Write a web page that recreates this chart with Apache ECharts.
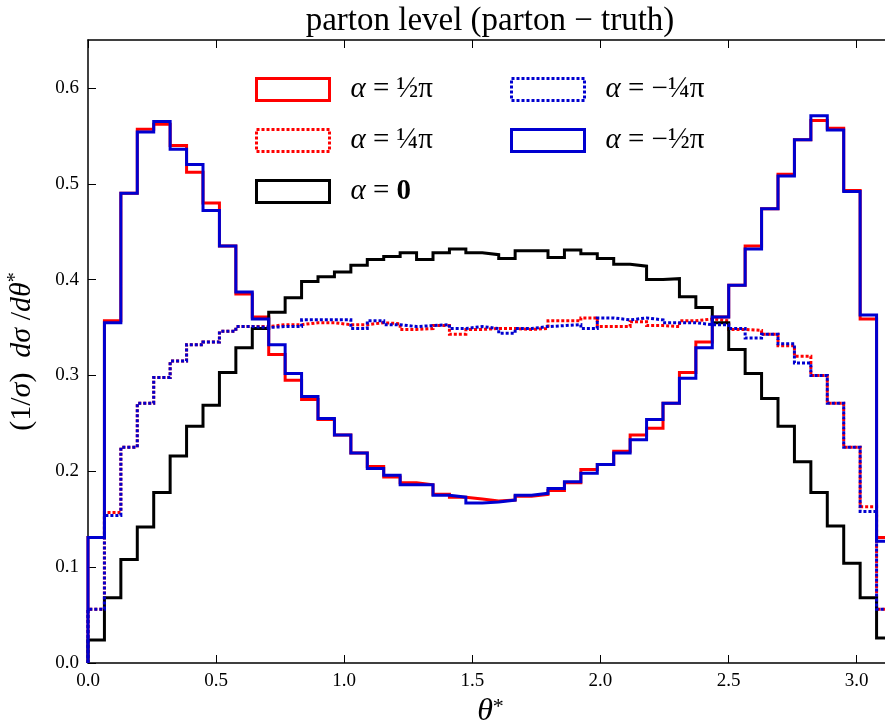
<!DOCTYPE html>
<html>
<head>
<meta charset="utf-8">
<script src="https://cdn.jsdelivr.net/npm/echarts@6/dist/echarts.min.js"></script>
<style>html,body{margin:0;padding:0;background:#fff;}#c{width:885px;height:724px;}</style>
</head>
<body>
<div id="c"></div>
<script>
// ---- data (49 bins spanning 0..pi) ----
const binCount = 49;
const xTicks = [0.0, 0.5, 1.0, 1.5, 2.0, 2.5, 3.0];
const yTicks = [0.0, 0.1, 0.2, 0.3, 0.4, 0.5, 0.6];
const seriesNames = ['α = ½π', 'α = ¼π', 'α = 0', 'α = −¼π', 'α = −½π'];

const alphaHalfPi = [0.131,0.357,0.490,0.557,0.562,0.540,0.512,0.480,0.435,0.385,0.361,0.322,0.295,0.275,0.254,0.238,0.219,0.205,0.194,0.188,0.186,0.176,0.173,0.171,0.169,0.170,0.174,0.176,0.180,0.188,0.202,0.207,0.221,0.238,0.245,0.271,0.303,0.335,0.361,0.394,0.435,0.474,0.510,0.546,0.566,0.558,0.493,0.359,0.131];
const alphaQuarterPi = [0.056,0.157,0.225,0.271,0.298,0.315,0.332,0.335,0.346,0.351,0.351,0.353,0.353,0.355,0.355,0.353,0.353,0.355,0.354,0.348,0.349,0.352,0.343,0.348,0.349,0.349,0.348,0.349,0.357,0.357,0.360,0.351,0.351,0.356,0.352,0.351,0.357,0.359,0.357,0.348,0.347,0.343,0.331,0.320,0.300,0.271,0.225,0.163,0.056];
const alphaZero = [0.024,0.068,0.108,0.142,0.178,0.216,0.247,0.269,0.303,0.329,0.349,0.366,0.381,0.398,0.403,0.408,0.415,0.421,0.424,0.428,0.421,0.428,0.432,0.428,0.426,0.422,0.430,0.430,0.423,0.431,0.427,0.422,0.416,0.414,0.400,0.401,0.382,0.371,0.355,0.327,0.302,0.276,0.247,0.210,0.178,0.143,0.104,0.068,0.026];
const alphaMinusQuarterPi = [0.056,0.154,0.225,0.271,0.298,0.315,0.332,0.335,0.346,0.351,0.350,0.351,0.351,0.358,0.358,0.358,0.349,0.357,0.353,0.351,0.352,0.353,0.349,0.351,0.349,0.344,0.349,0.351,0.352,0.353,0.349,0.360,0.358,0.360,0.358,0.355,0.355,0.353,0.353,0.349,0.339,0.343,0.333,0.313,0.300,0.271,0.225,0.158,0.056];
const alphaMinusHalfPi = [0.131,0.355,0.490,0.554,0.565,0.536,0.520,0.472,0.435,0.387,0.359,0.332,0.302,0.278,0.255,0.238,0.219,0.203,0.196,0.186,0.186,0.175,0.173,0.167,0.168,0.170,0.175,0.177,0.182,0.189,0.198,0.207,0.219,0.233,0.254,0.271,0.297,0.329,0.361,0.394,0.432,0.474,0.508,0.546,0.571,0.556,0.492,0.363,0.127];

// ---- build step outlines from bin edges ----
const xMax = Math.PI;
const binEdges = [];
for (let k = 0; k <= binCount; k++) binEdges.push(k * xMax / binCount);
function stepPoints(vals) {
  const pts = [[0, 0]];
  for (let k = 0; k < vals.length; k++) pts.push([binEdges[k], vals[k]]);
  pts.push([binEdges[binCount], vals[vals.length - 1]]);
  pts.push([binEdges[binCount], 0]);
  return pts;
}

const RED = '#ff0000', BLUE = '#0000d0', BLACK = '#000000';
const DOT = [3, 2];
const styles = [
  {color: RED, type: 'solid', width: 3},
  {color: RED, type: DOT, width: 3},
  {color: BLACK, type: 'solid', width: 3},
  {color: BLUE, type: DOT, width: 3},
  {color: BLUE, type: 'solid', width: 3}
];
const valuesList = [alphaHalfPi, alphaQuarterPi, alphaZero, alphaMinusQuarterPi, alphaMinusHalfPi];

const FONT = 'Liberation Serif';

function legendItem(i) {
  const s = styles[i];
  return {
    name: seriesNames[i],
    icon: 'rect',
    itemStyle: {color: 'rgba(0,0,0,0)', borderColor: s.color, borderWidth: 3, borderType: s.type === 'solid' ? 'solid' : DOT}
  };
}
function legendFmt(name) {
  let rest = name.slice(1);
  if (rest.trim() === '= 0') return '{a|α} = {b|0}';
  return '{a|α}' + rest;
}
const legendText = {
  fontFamily: FONT, fontSize: 29, color: '#000', lineHeight: 22,
  padding: [0, 0, 0, 16],
  rich: {
    a: {fontFamily: FONT, fontStyle: 'italic', fontSize: 29, lineHeight: 22},
    b: {fontFamily: FONT, fontWeight: 'bold', fontSize: 29, lineHeight: 22}
  }
};
function makeLegend(left, idxs) {
  return {
    left: left, top: 70, orient: 'vertical',
    itemWidth: 73, itemHeight: 22, itemGap: 22,
    selectedMode: false,
    data: idxs.map(legendItem),
    formatter: legendFmt,
    textStyle: legendText
  };
}

const chart = echarts.init(document.getElementById('c'), null, {renderer: 'canvas'});
chart.setOption({
  animation: false,
  backgroundColor: '#ffffff',
  title: {
    text: 'parton level (parton − truth)',
    left: 485, top: 0, textAlign: 'center',
    textStyle: {fontFamily: FONT, fontSize: 33, fontWeight: 'normal', color: '#000'}
  },
  legend: [makeLegend(250, [0, 1, 2]), makeLegend(505, [3, 4])],
  grid: {left: 88, top: 40, bottom: 61, right: -8, containLabel: false, outerBoundsMode: 'none'},
  xAxis: [{
    type: 'value', min: 0, max: xMax, interval: 0.5,
    axisLine: {lineStyle: {color: '#000', width: 1.5}},
    axisTick: {inside: true, length: 8, lineStyle: {color: '#000', width: 1}},
    axisLabel: {showMaxLabel: false, formatter: v => xTicks.some(t => Math.abs(t - v) < 1e-9) ? v.toFixed(1) : '', fontFamily: FONT, fontSize: 19, color: '#000', margin: 9},
    splitLine: {show: false},
    name: '{t|θ}{s|*}', nameLocation: 'middle', nameGap: 26,
    nameTextStyle: {fontFamily: FONT, fontSize: 30, color: '#000',
      rich: {t: {fontFamily: FONT, fontStyle: 'italic', fontSize: 32, lineHeight: 32},
             s: {fontFamily: FONT, fontSize: 22, verticalAlign: 'top', lineHeight: 32}}}
  }, {
    type: 'value', position: 'top', min: 0, max: xMax, interval: 0.5,
    axisLine: {lineStyle: {color: '#000', width: 1.5}},
    axisTick: {inside: true, length: 8, lineStyle: {color: '#000', width: 1}},
    axisLabel: {show: false}, splitLine: {show: false}
  }],
  yAxis: {
    type: 'value', min: 0, max: 0.65, interval: 0.1,
    axisLine: {show: true, lineStyle: {color: '#000', width: 1.5}},
    axisTick: {show: true, inside: true, length: 8, lineStyle: {color: '#000', width: 1}},
    axisLabel: {showMaxLabel: false, formatter: v => yTicks.some(t => Math.abs(t - v) < 1e-9) ? v.toFixed(1) : '', fontFamily: FONT, fontSize: 19, color: '#000', margin: 9},
    splitLine: {show: false},
    name: '(1/{i|σ})  {i|dσ} /{i|dθ}{s|*}', nameLocation: 'middle', nameGap: 50, nameRotate: 90,
    nameTextStyle: {fontFamily: FONT, fontSize: 30, color: '#000', lineHeight: 32,
      rich: {i: {fontFamily: FONT, fontStyle: 'italic', fontSize: 30, lineHeight: 32},
             s: {fontFamily: FONT, fontSize: 20, verticalAlign: 'top', lineHeight: 32}}}
  },
  series: valuesList.map((vals, i) => ({
    name: seriesNames[i],
    type: 'line',
    step: 'end',
    symbol: 'none',
    clip: true,
    data: stepPoints(vals),
    itemStyle: {color: styles[i].color},
    lineStyle: {color: styles[i].color, width: styles[i].width, type: styles[i].type, join: 'miter'},
    z: 2 + i
  }))
});
</script>
</body>
</html>
